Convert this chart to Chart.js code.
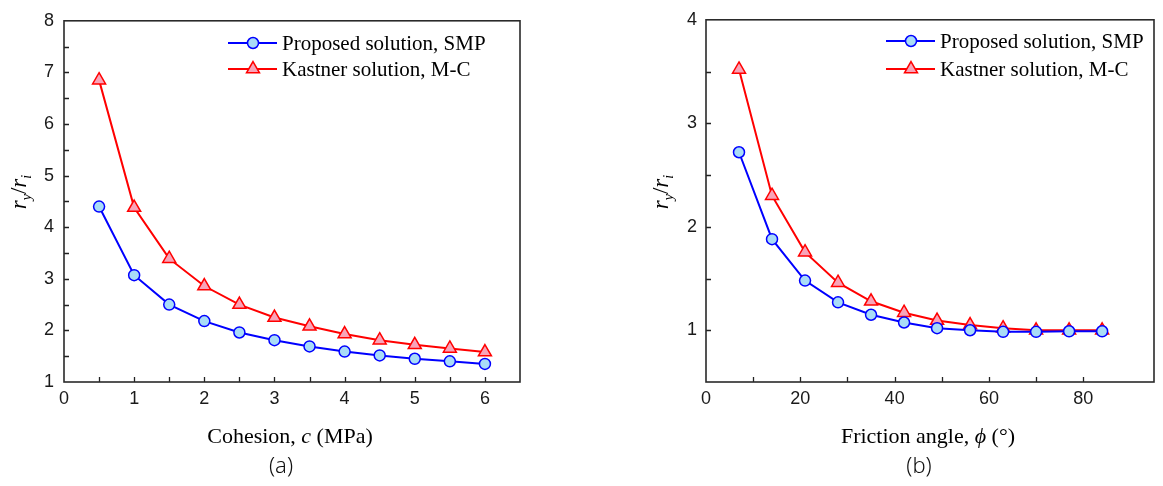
<!DOCTYPE html>
<html>
<head>
<meta charset="utf-8">
<script src="https://cdn.jsdelivr.net/npm/chart.js@4.4.1/dist/chart.umd.min.js"></script>
<style>
html,body{margin:0;padding:0;background:#fff;}
#wrap{position:relative;width:1163px;height:486px;background:#fff;overflow:hidden;}
canvas{position:absolute;top:0;}
</style>
</head>
<body>
<div id="wrap">
<canvas id="chartA" width="560" height="486" style="left:0px"></canvas>
<canvas id="chartB" width="563" height="486" style="left:600px"></canvas>
</div>
<script>
// ---- data (a): cohesion ----
const cohesion = [0.5, 1, 1.5, 2, 2.5, 3, 3.5, 4, 4.5, 5, 5.5, 6];
const smpA = [4.40, 3.07, 2.50, 2.18, 1.96, 1.81, 1.69, 1.59, 1.515, 1.45, 1.40, 1.35];
const mcA  = [6.85, 4.38, 3.39, 2.86, 2.50, 2.25, 2.08, 1.93, 1.81, 1.72, 1.65, 1.58];
// ---- data (b): friction angle ----
const friction = [7, 14, 21, 28, 35, 42, 49, 56, 63, 70, 77, 84];
const smpB = [2.72, 1.88, 1.48, 1.27, 1.15, 1.075, 1.02, 1.00, 0.985, 0.985, 0.99, 0.99];
const mcB  = [3.52, 2.30, 1.755, 1.46, 1.28, 1.17, 1.094, 1.05, 1.02, 1.00, 1.00, 1.00];
// ---- labels ----
const seriesNames = ['Proposed solution, SMP', 'Kastner solution, M-C'];
const captions = ['(a)', '(b)'];

const BLUE = '#0000ff', BLUE_FILL = '#a9dcf7';
const RED = '#ff0000', RED_FILL = '#f8a4b9';
const SERIF = '"Liberation Serif", "Times New Roman", serif';
const SANS = '"Liberation Sans", Arial, sans-serif';

function pts(xs, ys){ return xs.map((x,i)=>({x:x, y:ys[i]})); }
function isMult(v, step){ const r = v/step; return Math.abs(r - Math.round(r)) < 1e-6; }

function drawMarker(ctx, style, x, y, r, fill, stroke, bw){
  ctx.save();
  ctx.beginPath();
  if(style === 'circle'){
    ctx.arc(x, y, r, 0, Math.PI*2);
  } else {
    let rad = 0;
    ctx.moveTo(x + Math.sin(rad)*r, y - Math.cos(rad)*r);
    rad += 2*Math.PI/3;
    ctx.lineTo(x + Math.sin(rad)*r, y - Math.cos(rad)*r);
    rad += 2*Math.PI/3;
    ctx.lineTo(x + Math.sin(rad)*r, y - Math.cos(rad)*r);
    ctx.closePath();
  }
  ctx.fillStyle = fill; ctx.fill();
  ctx.lineWidth = bw; ctx.strokeStyle = stroke; ctx.stroke();
  ctx.restore();
}

function drawSegs(ctx, segs, cx, y){
  let total = 0;
  segs.forEach(s=>{ ctx.font = s.f; s.w = ctx.measureText(s.t).width; total += s.w; });
  let x = cx - total/2;
  segs.forEach(s=>{ ctx.font = s.f; ctx.fillText(s.t, x, y + (s.dy||0)); x += s.w; });
}

const decorPlugin = {
  id: 'decor',
  afterDraw(chart, args, o){
    const ctx = chart.ctx;
    const {left, right, top, bottom} = chart.chartArea;
    const xs = chart.scales.x, ys = chart.scales.y;
    ctx.save();
    // inward ticks
    ctx.strokeStyle = '#222';
    ctx.lineWidth = 1.3;
    ctx.beginPath();
    xs.ticks.forEach(t=>{
      if(!isMult(t.value, o.xMinor) || t.value <= xs.min || t.value >= xs.max) return;
      const px = Math.round(xs.getPixelForValue(t.value)) + 0.5;
      ctx.moveTo(px, bottom); ctx.lineTo(px, bottom - 5);
    });
    ys.ticks.forEach(t=>{
      if(!isMult(t.value, o.yMinor) || t.value <= ys.min || t.value >= ys.max) return;
      const py = Math.round(ys.getPixelForValue(t.value)) + 0.5;
      ctx.moveTo(left, py); ctx.lineTo(left + 5, py);
    });
    ctx.stroke();
    // frame
    ctx.strokeStyle = '#2a2a2a';
    ctx.lineWidth = 1.6;
    ctx.strokeRect(left, top, right-left, bottom-top);

    // legend
    ctx.fillStyle = '#000';
    ctx.textBaseline = 'middle';
    ctx.textAlign = 'left';
    chart.data.datasets.forEach((ds, i)=>{
      const y = o.legendY[i];
      const x0 = left + o.legendX;
      ctx.strokeStyle = ds.borderColor;
      ctx.lineWidth = 2;
      ctx.beginPath(); ctx.moveTo(x0, y); ctx.lineTo(x0 + 49, y); ctx.stroke();
      drawMarker(ctx, ds.pointStyle, x0 + 25, y, ds.pointRadius, ds.pointBackgroundColor, ds.pointBorderColor, ds.pointBorderWidth);
      ctx.fillStyle = '#000';
      ctx.font = '21px ' + SERIF;
      ctx.fillText(ds.label, x0 + 54, y + 1);
    });

    // x title
    const cx = (left + right)/2;
    ctx.fillStyle = '#000';
    ctx.textBaseline = 'middle';
    drawSegs(ctx, o.xTitle, cx - 2, 437);

    // caption
    ctx.textAlign = 'center';
    ctx.fillStyle = '#111';
    ctx.font = '300 22px "Noto Sans", "Open Sans", sans-serif';
    ctx.fillText(o.caption, cx - 11, 467);

    // y title (rotated)
    ctx.save();
    ctx.translate(left - 42, 192);
    ctx.rotate(-Math.PI/2);
    ctx.textAlign = 'left';
    ctx.textBaseline = 'alphabetic';
    ctx.fillStyle = '#000';
    drawSegs(ctx, [
      {t:'r', f:'italic 23px ' + SERIF},
      {t:'y', f:'italic 14px ' + SERIF, dy:5},
      {t:'/', f:'23px ' + SERIF},
      {t:'r', f:'italic 23px ' + SERIF},
      {t:'i', f:'italic 14px ' + SERIF, dy:5}
    ], 0, 4);
    ctx.restore();

    ctx.restore();
  }
};

function makeChart(id, xData, s1, s2, sc, deco, yWidth, padRight){
  const tickFont = {family: SANS, size: 18};
  return new Chart(document.getElementById(id), {
    type: 'scatter',
    data: {
      datasets: [
        {label: seriesNames[0], data: pts(xData, s1), showLine: true,
         borderColor: BLUE, borderWidth: 2, pointStyle: 'circle', pointRadius: 5.5,
         pointBackgroundColor: BLUE_FILL, pointBorderColor: BLUE, pointBorderWidth: 1.5, clip: false},
        {label: seriesNames[1], data: pts(xData, s2), showLine: true,
         borderColor: RED, borderWidth: 2, pointStyle: 'triangle', pointRadius: 7.5,
         pointBackgroundColor: RED_FILL, pointBorderColor: RED, pointBorderWidth: 1.5, clip: false}
      ]
    },
    options: {
      responsive: false,
      animation: false,
      devicePixelRatio: 1,
      layout: {padding: {top: 11, right: padRight, left: 0, bottom: 0}},
      plugins: {legend: {display: false}, tooltip: {enabled: false}, decor: deco},
      scales: {
        x: {
          type: 'linear', min: sc.xMin, max: sc.xMax,
          grid: {display: false, drawTicks: false}, border: {display: false},
          ticks: {stepSize: sc.xMinor, autoSkip: false, maxRotation: 0, padding: 6, color: '#1a1a1a', font: tickFont,
                  callback: v => isMult(v, sc.xMajor) ? String(Math.round(v*100)/100) : ''},
          afterFit: s => { s.height = 104; }
        },
        y: {
          type: 'linear', min: sc.yMin, max: sc.yMax,
          grid: {display: false, drawTicks: false}, border: {display: false},
          ticks: {stepSize: sc.yMinor, autoSkip: false, padding: sc.yPad, color: '#1a1a1a', font: tickFont,
                  callback: v => isMult(v, sc.yMajor) ? String(Math.round(v)) : ''},
          afterFit: s => { s.width = yWidth; }
        }
      }
    },
    plugins: [decorPlugin]
  });
}

makeChart('chartA', cohesion, smpA, mcA,
  {xMin: 0, xMax: 6.5, xMinor: 0.5, xMajor: 1, yMin: 1, yMax: 8, yMinor: 0.5, yMajor: 1, yPad: 10},
  {xMinor: 0.5, yMinor: 0.5, legendX: 164, legendY: [43, 69], caption: captions[0],
   xTitle: [{t:'Cohesion, ', f:'22px ' + SERIF}, {t:'c', f:'italic 22px ' + SERIF}, {t:' (MPa)', f:'22px ' + SERIF}]},
  64, 40);

makeChart('chartB', friction, smpB, mcB,
  {xMin: 0, xMax: 95, xMinor: 10, xMajor: 20, yMin: 0.5, yMax: 4, yMinor: 0.5, yMajor: 1, yPad: 9},
  {xMinor: 10, yMinor: 0.5, legendX: 180, legendY: [41, 69], caption: captions[1],
   xTitle: [{t:'Friction angle, ', f:'22px ' + SERIF}, {t:'\u03D5', f:'italic 22px ' + SERIF}, {t:' (\u00B0)', f:'22px ' + SERIF}]},
  106, 2);
</script>
</body>
</html>
